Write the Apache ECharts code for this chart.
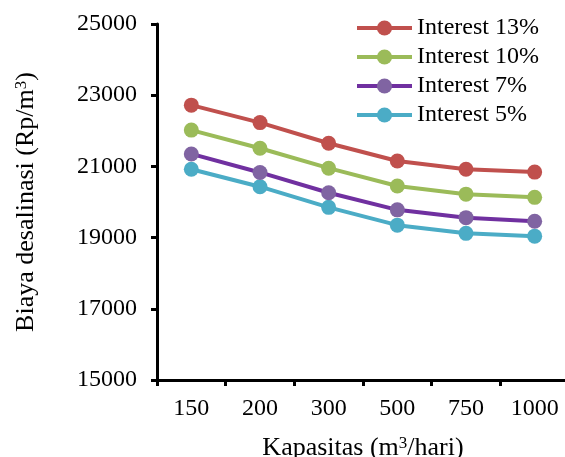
<!DOCTYPE html>
<html><head><meta charset="utf-8">
<script src="https://cdn.jsdelivr.net/npm/echarts@6/dist/echarts.min.js"></script>
<style>html,body{margin:0;padding:0;background:#fff}#c{width:565px;height:457px}</style>
</head><body><div id="c"></div>
<script>
const categories = ['150', '200', '300', '500', '750', '1000'];
const interest13 = [22720, 22230, 21650, 21150, 20920, 20840];
const interest10 = [22020, 21510, 20950, 20450, 20220, 20130];
const interest7 = [21350, 20830, 20260, 19780, 19560, 19460];
const interest5 = [20920, 20430, 19850, 19350, 19120, 19040];
const seriesNames = ['Interest 13%', 'Interest 10%', 'Interest 7%', 'Interest 5%'];

const FONT = '"Liberation Serif", "Times New Roman", serif';
const lineColors = ['#C0504D', '#9BBB59', '#7030A0', '#4BACC6'];
const markerColors = ['#C0504D', '#9BBB59', '#8064A2', '#4BACC6'];
const dataSets = [interest13, interest10, interest7, interest5];

const chart = echarts.init(document.getElementById('c'));
chart.setOption({
  animation: false,
  backgroundColor: '#fff',
  textStyle: { fontFamily: FONT, color: '#000' },
  grid: { left: 157, top: 24, width: 412, height: 356, outerBoundsMode: 'none', containLabel: false },
  legend: {
    orient: 'vertical', left: 350, top: 11,
    itemWidth: 55, itemHeight: 19, itemGap: 5,
    lineStyle: { width: 4 },
    textStyle: { fontFamily: FONT, fontSize: 24, color: '#000' },
    data: seriesNames
  },
  xAxis: {
    type: 'category', data: categories, boundaryGap: true,
    axisLine: { lineStyle: { color: '#000', width: 3 } },
    axisTick: { show: true, length: 6, lineStyle: { color: '#000', width: 3 } },
    axisLabel: { fontFamily: FONT, fontSize: 24, color: '#000', margin: 17 },
    name: '{a|Kapasitas (m}{s|3}{a|/hari)}',
    nameLocation: 'middle', nameGap: 55,
    nameTextStyle: { rich: {
      a: { fontFamily: FONT, fontSize: 26, color: '#000' },
      s: { fontFamily: FONT, fontSize: 17, color: '#000', verticalAlign: 'top', padding: [0, 0, 9, 0] }
    } }
  },
  yAxis: {
    type: 'value', min: 15000, max: 25000, interval: 2000,
    axisLine: { show: true, lineStyle: { color: '#000', width: 3 } },
    axisTick: { show: true, length: 6, lineStyle: { color: '#000', width: 3 } },
    splitLine: { show: false },
    axisLabel: { fontFamily: FONT, fontSize: 24, color: '#000', margin: 20, formatter: v => String(v) },
    name: '{a|Biaya desalinasi (Rp/m}{s|3}{a|)}',
    nameLocation: 'middle', nameGap: 118, nameRotate: 90,
    nameTextStyle: { rich: {
      a: { fontFamily: FONT, fontSize: 26, color: '#000' },
      s: { fontFamily: FONT, fontSize: 17, color: '#000', verticalAlign: 'top', padding: [0, 0, 9, 0] }
    } }
  },
  series: seriesNames.map((n, i) => ({
    name: n, type: 'line', data: dataSets[i],
    symbol: 'circle', symbolSize: 15,
    lineStyle: { color: lineColors[i], width: 4 },
    itemStyle: { color: markerColors[i] },
    z: 10 - i
  }))
});
</script></body></html>
